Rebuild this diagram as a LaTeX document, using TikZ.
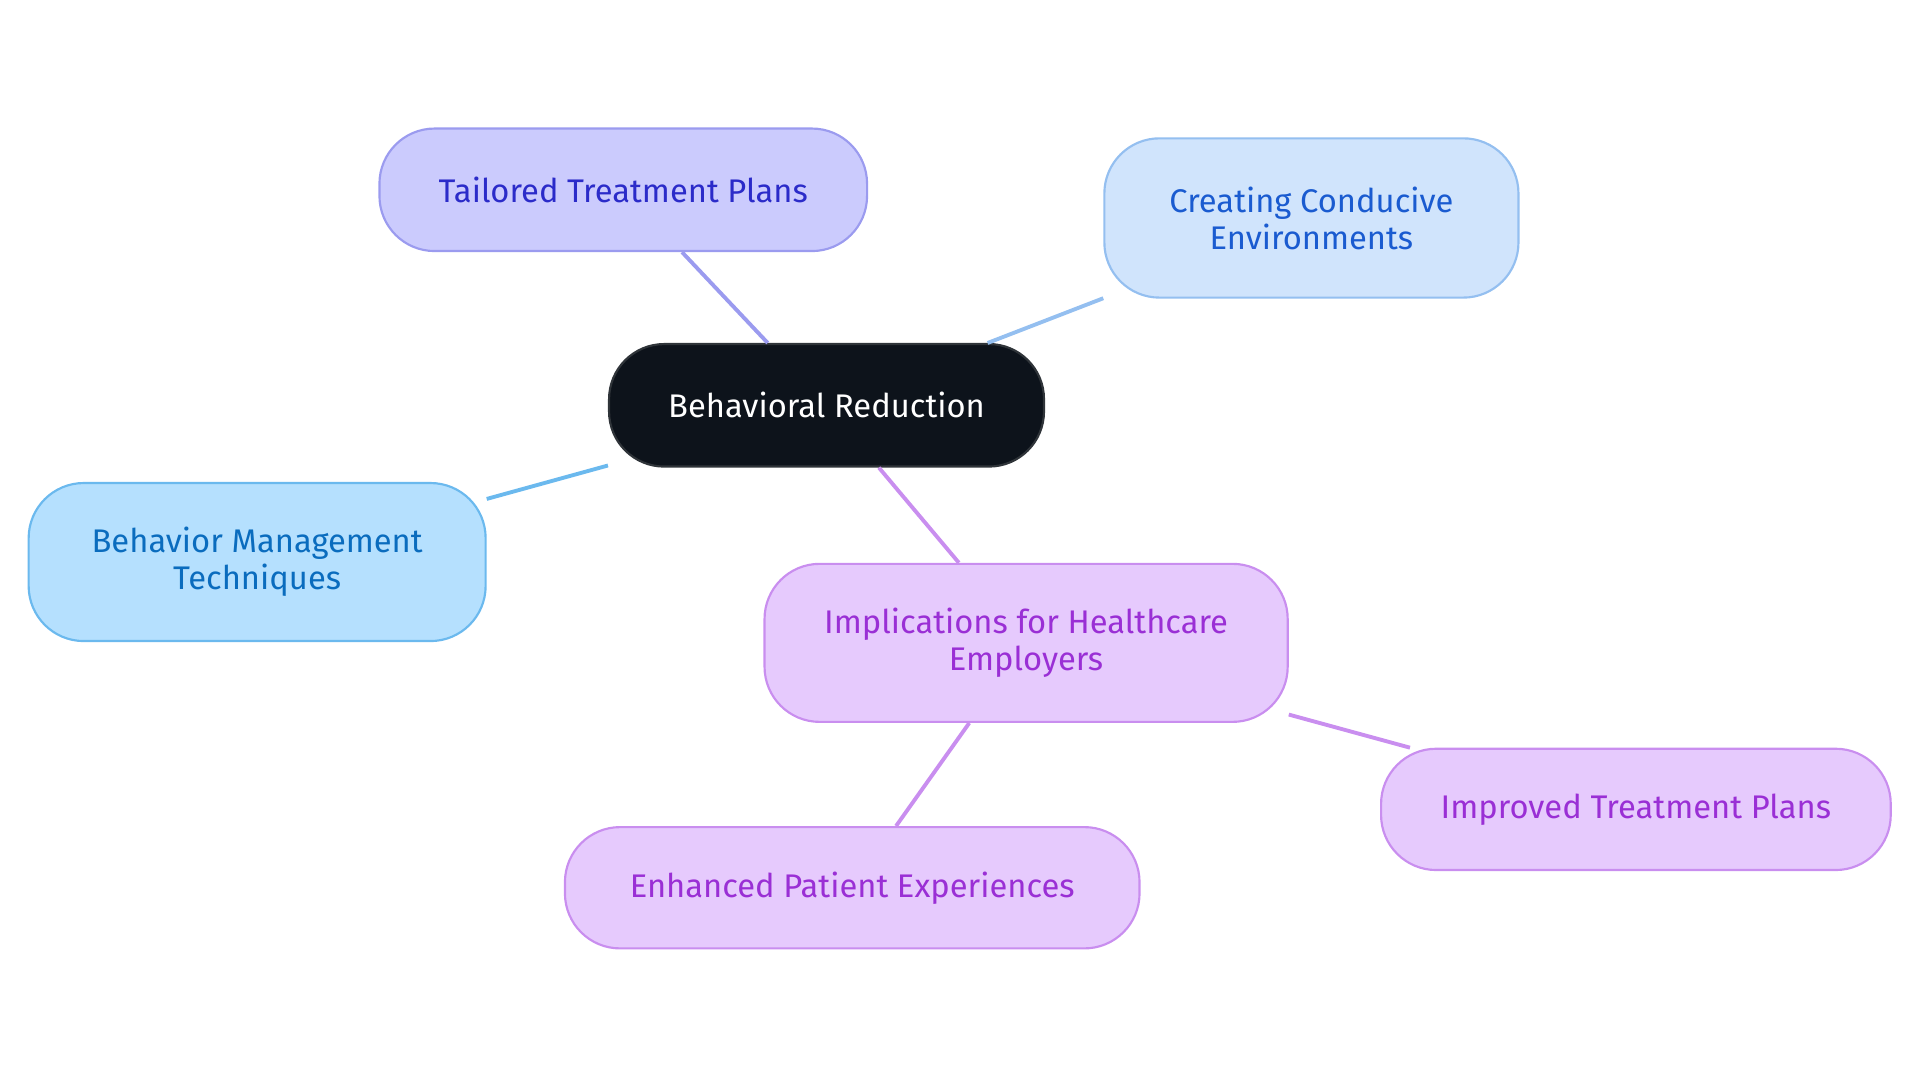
\documentclass[tikz,border=0pt]{standalone}
\usepackage{fontspec}
\setmainfont{Fira Sans}
\begin{document}
\begin{tikzpicture}[x=0.01cm,y=-0.01cm,
 box/.style={draw,line width=0.5pt,rounded corners=0.45cm,align=center,font=\fontsize{7.6}{8.6}\selectfont,inner sep=0pt},
 edge/.style={line width=0.9pt}]
\definecolor{tf}{HTML}{CBCBFD}\definecolor{td}{HTML}{9B9BEF}\definecolor{tt}{HTML}{2B2BC9}
\definecolor{cf}{HTML}{D0E4FC}\definecolor{cd}{HTML}{94BFF0}\definecolor{ct}{HTML}{1A5BD0}
\definecolor{bf}{HTML}{B5E0FE}\definecolor{bd}{HTML}{6BB9EE}\definecolor{bt}{HTML}{0A6CBE}
\definecolor{pf}{HTML}{E6CAFD}\definecolor{pd}{HTML}{C98EEF}\definecolor{pt}{HTML}{9A2FD5}
\definecolor{kf}{HTML}{0D131B}
\useasboundingbox (0,0) rectangle (1568,884);
\node[box,fill=kf,draw=kf!70!gray,text=white,minimum width=3.55cm,minimum height=1.0cm] (c) at (675,331) {Behavioral Reduction};
\node[box,fill=tf,draw=td,text=tt,minimum width=3.98cm,minimum height=1.0cm] (t) at (509,155) {Tailored Treatment Plans};
\node[box,fill=cf,draw=cd,text=ct,minimum width=3.38cm,minimum height=1.3cm] (e) at (1071,178) {Creating Conducive\\Environments};
\node[box,fill=bf,draw=bd,text=bt,minimum width=3.73cm,minimum height=1.29cm] (b) at (210,459) {Behavior Management\\Techniques};
\node[box,fill=pf,draw=pd,text=pt,minimum width=4.27cm,minimum height=1.29cm] (i) at (838,525) {Implications for Healthcare\\Employers};
\node[box,fill=pf,draw=pd,text=pt,minimum width=4.16cm,minimum height=0.99cm] (p) at (1336,661) {Improved Treatment Plans};
\node[box,fill=pf,draw=pd,text=pt,minimum width=4.69cm,minimum height=0.99cm] (h) at (696,725) {Enhanced Patient Experiences};
\draw[edge,td] (c) -- (t);
\draw[edge,cd] (c) -- (e);
\draw[edge,bd] (c) -- (b);
\draw[edge,pd] (c) -- (i);
\draw[edge,pd] (i) -- (p);
\draw[edge,pd] (i) -- (h);
\end{tikzpicture}
\end{document}
